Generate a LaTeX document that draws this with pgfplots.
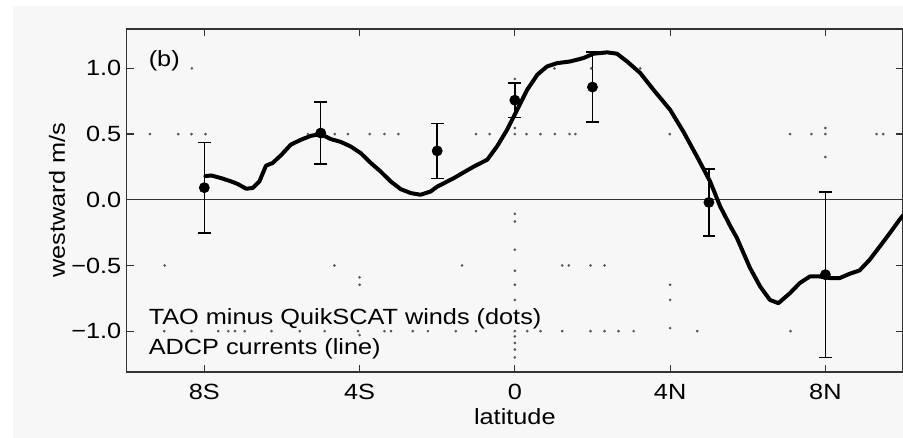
\documentclass[border=0pt]{standalone}
\usepackage{fontspec}
\setmainfont{Liberation Sans}[FakeStretch=1.15]
\usepackage{pgfplots}
\pgfplotsset{compat=1.18}
\definecolor{bg}{HTML}{F7F7F7}
\definecolor{ax}{HTML}{333333}
\begin{document}
\fontsize{11pt}{13pt}\selectfont
\begin{tikzpicture}
\useasboundingbox (-63.35pt,-33pt) rectangle (388.3pt,186pt);
\fill[white] (-63.35pt,-33pt) rectangle (388.3pt,186pt);
\fill[bg] (-56.85pt,-33pt) rectangle (389pt,183pt);
\begin{axis}[
  at={(0pt,0pt)}, anchor=south west,
  scale only axis, width=388.3pt, height=171.5pt,
  xmin=-10, xmax=10, ymin=-1.31, ymax=1.3,
  axis line style={draw=ax, line width=0.75pt},
  tick style={draw=ax, line width=0.6pt},
  major tick length=3.5pt, tick align=inside,
  xtick={-8,-4,0,4,8}, xticklabels={8S,4S,0,4N,8N},
  ytick={-1,-0.5,0,0.5,1}, yticklabels={−1.0,−0.5,0.0,0.5,1.0},
  xticklabel style={anchor=base, yshift=-14pt, inner sep=0pt},
  yticklabel style={anchor=east, inner sep=0pt, xshift=-2.5pt},
  xlabel={latitude}, ylabel={westward m/s},
  every axis x label/.style={at={(axis description cs:0.5,0)}, anchor=base, yshift=-26.5pt},
  every axis y label/.style={at={(axis description cs:-0.0897,0.5)}, anchor=center, rotate=90},
  clip=false,
]
% zero line
\addplot[ax, line width=0.6pt] coordinates {(-10,0) (10,0)};
% TAO minus QuikSCAT small dots
\addplot[only marks, mark=*, mark size=0.45pt, color=black!65] coordinates {
(-8.32,1.0) (1.02,1.0) (1.97,1.0) (3.23,1.0) (0,0.92)
(-9.4,0.5) (-8.67,0.5) (-8.33,0.5) (-7.97,0.5) (-5.33,0.5) (-4.64,0.5) (-4.3,0.5) (-3.74,0.5) (-3.36,0.5) (-3.0,0.5)
(-1.0,0.5) (-0.65,0.5) (0,0.5) (0.3,0.5) (0.66,0.5) (1.03,0.5) (1.41,0.5) (1.56,0.5) (3.99,0.5) (7.09,0.5) (7.64,0.5) (8.0,0.5) (9.32,0.5) (9.49,0.5)
(0,0.546) (8,0.546) (8,0.325) (0,-0.107)
(0,-0.165) (0,-0.38) (0,-0.54) (0,-0.647) (0,-0.762) (0,-1.0) (0,-1.04) (0,-1.09) (0,-1.14) (0,-1.2)
(4,-0.647) (4,-0.762) (4,-0.977)
(-4,-0.59) (-4,-0.647) (-4,-1.03)
(-9.02,-0.5) (-4.65,-0.5) (-1.36,-0.5) (1.22,-0.5) (1.39,-0.5) (1.95,-0.5) (2.31,-0.5)
(-9.03,-1.0) (-8.33,-1.0) (-7.64,-1.0) (-7.38,-1.0) (-7.21,-1.0) (-6.96,-1.0) (-6.27,-1.0) (-5.54,-1.0) (-4.9,-1.0) (-4.04,-1.0)
(-3.36,-1.0) (-3.19,-1.0) (-2.63,-1.0) (-2.24,-1.0) (-1.52,-1.0) (-1.0,-1.0) (0.32,-1.0) (0.66,-1.0) (1.22,-1.0) (1.95,-1.0)
(2.31,-1.0) (2.67,-1.0) (3.06,-1.0) (4.7,-1.0) (7.1,-1.0)
};
% ADCP currents line
\addplot[black, line width=2pt, line join=round, line cap=round] coordinates {
(-7.97,0.18) (-7.82,0.185) (-7.57,0.165) (-7.31,0.14) (-7.14,0.12) (-6.92,0.084) (-6.75,0.09) (-6.58,0.14)
(-6.41,0.26) (-6.24,0.28) (-6.02,0.34) (-5.77,0.42) (-5.51,0.457) (-5.25,0.487) (-5.0,0.50) (-4.74,0.462)
(-4.48,0.44) (-4.23,0.406) (-3.97,0.355) (-3.71,0.28) (-3.46,0.216) (-3.2,0.14) (-2.94,0.081) (-2.68,0.051)
(-2.43,0.038) (-2.17,0.063) (-2.0,0.10) (-1.57,0.165) (-1.31,0.21) (-1.05,0.254) (-0.71,0.305) (-0.45,0.41)
(-0.2,0.533) (0.06,0.685) (0.32,0.838) (0.58,0.952) (0.83,1.015) (1.09,1.04) (1.43,1.053) (1.77,1.079)
(2.03,1.112) (2.38,1.122) (2.63,1.112) (2.89,1.053) (3.23,0.965) (3.57,0.838) (4.0,0.685) (4.34,0.52)
(4.69,0.33) (5.03,0.14) (5.29,-0.051) (5.55,-0.2) (5.72,-0.29) (6.06,-0.52) (6.32,-0.66) (6.57,-0.762)
(6.79,-0.787) (7.09,-0.71) (7.34,-0.634) (7.6,-0.584) (7.85,-0.584) (8.12,-0.596) (8.37,-0.596) (8.62,-0.564)
(8.88,-0.538) (9.14,-0.457) (9.4,-0.356) (9.66,-0.254) (9.91,-0.152) (10,-0.12)
};
% points with error bars
\addplot[only marks, mark=*, mark size=2.5pt, color=black,
  error bars/.cd, y dir=both, y explicit,
  error bar style={line width=0.75pt, black},
  error mark options={rotate=90, mark size=3.2pt, line width=0.75pt, black}]
  coordinates {
  (-8,0.092) +- (0,0.345)
  (-5,0.508) +- (0,0.236)
  (-2,0.372) +- (0,0.21)
  (0,0.758) +- (0,0.131)
  (2,0.858) +- (0,0.267)
  (5,-0.02) +- (0,0.254)
  (8,-0.57) +- (0,0.63)
};
\node[anchor=base west, inner sep=0pt] at (axis cs:-9.44,1.013) {(b)};
\node[anchor=base west, inner sep=0pt] at (axis cs:-9.44,-0.952) {TAO minus QuikSCAT winds (dots)};
\node[anchor=base west, inner sep=0pt] at (axis cs:-9.44,-1.18) {ADCP currents (line)};
\end{axis}
\end{tikzpicture}
\end{document}
